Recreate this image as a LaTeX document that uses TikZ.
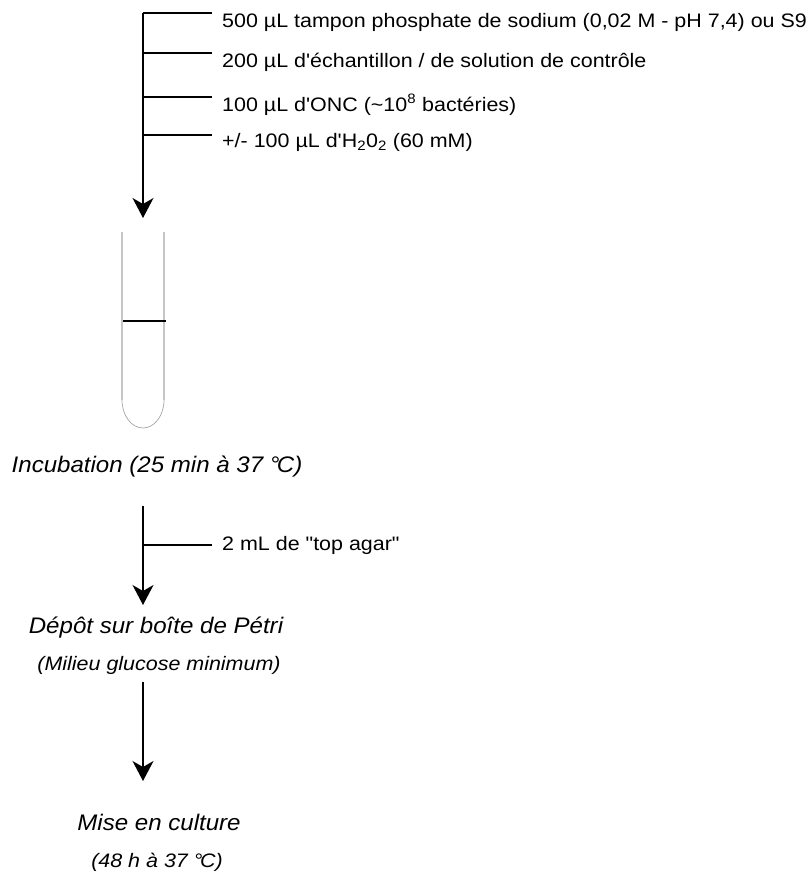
\documentclass[tikz,border=0pt]{standalone}
\usepackage{fontspec}
\setmainfont{Liberation Sans}[Ligatures=TeXOff]
\newfontfamily\smallface{Liberation Sans}[FakeStretch=1.1,Ligatures=TeXOff]
\newfontfamily\bigface{Liberation Sans}[FakeStretch=1.07,Ligatures=TeXOff]
\usepackage{tikz}
\usetikzlibrary{positioning,arrows.meta}

\tikzset{
  flow/.style={line width=1.4pt,-{Stealth[length=20pt,width=21pt,inset=6pt]}},
  branch/.style={line width=1.2pt,shorten >=10pt},
  addlabel/.style={anchor=west,inner sep=0pt,font=\smallface\fontsize{19.5}{22}\selectfont},
  steplabel/.style={inner sep=0pt,font=\bigface\fontsize{22.5}{26}\selectfont\itshape},
  notelabel/.style={inner sep=0pt,font=\smallface\fontsize{19.5}{22}\selectfont\itshape},
  wall/.style={gray!45,line width=1.6pt},
}
\newcommand{\degC}{°\kern-.12em C}

\begin{document}
\begin{tikzpicture}[x=1pt,y=-1pt]
  \useasboundingbox (0,0) rectangle (809,872);

  % additions to the tube
  \coordinate (top) at (143,13);
  \coordinate (tubein) at (143,218);
  \node[addlabel] (a1) at (222,22) {500 µL tampon phosphate de sodium (0,02 M - pH 7,4) ou S9};
  \node[addlabel] (a2) at (222,62) {200 µL d'échantillon / de solution de contrôle};
  \node[addlabel] (a3) at (222,105) {100 µL d'ONC (\textasciitilde10\textsuperscript{8} bactéries)};
  \node[addlabel] (a4) at (222,142) {+/- 100 µL d'H\textsubscript{2}0\textsubscript{2} (60 mM)};
  \coordinate (j1) at (143,13);
  \coordinate (j2) at (143,53);
  \coordinate (j3) at (143,97);
  \coordinate (j4) at (143,135);
  \draw[flow] (top) -- (tubein);
  \foreach \i in {1,...,4}
    \draw[branch] (j\i) -- (j\i -| a\i.west);

  % tube
  \draw[wall] (122,232) -- (122,400);
  \draw[wall] (164,232) -- (164,400);
  \draw[gray!70,line width=0.7pt] (122,400) arc (180:0:21 and 28);
  \draw[line width=1.2pt] (123,321) -- (166,321);

  \node[steplabel] (incub) at (157,467) {Incubation (25 min à 37 \degC)};

  % top agar
  \coordinate (s2) at (143,506);
  \coordinate (e2) at (143,605);
  \coordinate (j5) at (143,545);
  \node[addlabel] (a5) at (222,545) {2 mL de "top agar"};
  \draw[flow] (s2) -- (e2);
  \draw[branch] (j5) -- (j5 -| a5.west);

  \node[steplabel] (petri) at (156,628) {Dépôt sur boîte de Pétri};
  \node[notelabel] (milieu) at (159,665) {(Milieu glucose minimum)};
  \coordinate (s3) at (143,682);
  \coordinate (e3) at (143,781);
  \draw[flow] (s3) -- (e3);

  \node[steplabel] (culture) at (159,822) {Mise en culture};
  \node[notelabel] (temps) at (157,862) {(48 h à 37 \degC)};
\end{tikzpicture}
\end{document}
